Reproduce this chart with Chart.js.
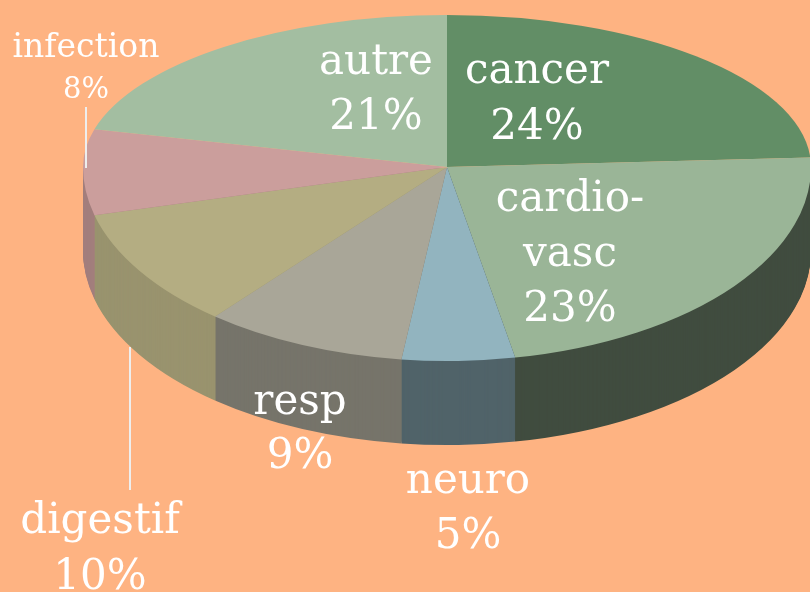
<!DOCTYPE html>
<html lang="fr">
<head>
  <meta charset="UTF-8">
  <title>Causes de décès</title>
  <style>
    html, body {
      margin: 0;
      padding: 0;
      background: #feb382;
      overflow: hidden;
    }
    canvas { display: block; }
  </style>
  <script src="https://cdn.jsdelivr.net/npm/chart.js"></script>
</head>
<body>
  <canvas id="chart" width="810" height="592"></canvas>
  <script>
    // data
    const categories = ['cancer', 'cardio-vasc', 'neuro', 'resp', 'digestif', 'infection', 'autre'];
    const percents = [24, 23, 5, 9, 10, 8, 21];
    const colors = ['#628e66', '#9ab597', '#92b4bf', '#a9a698', '#b4ad82', '#cb9e9c', '#a3bea1'];
    // how dark the side wall of each slice is
    const sideShade = [0.5, 0.42, 0.55, 0.7, 0.85, 0.8, 0.8];

    // the tilted look: apex of the pie, radii and thickness
    const apex = { x: 447, y: 167 };
    const rx = 364, ryTop = 152, ryBot = 194, depth = 84;

    // where the labels sit (center x, y of each line)
    const labelPos = [
      { x: 537, y: [72, 128] },
      { x: 570, y: [200, 255, 310] },
      { x: 468, y: [482, 537] },
      { x: 300, y: [403, 457] },
      { x: 100, y: [522, 578] },
      { x: 86, y: [48, 90], small: true },
      { x: 376, y: [63, 118] }
    ];
    const leaders = [
      [86, 107, 86, 168],
      [130, 347, 130, 490]
    ];

    const pie3d = {
      id: 'pie3d',
      beforeDatasetsDraw(chart) {
        const ctx = chart.ctx;
        const arcs = chart.getDatasetMeta(0).data;
        const cx = arcs[0].x, cy = arcs[0].y, R = arcs[0].outerRadius;

        function half(dy, ry, top, fn) {
          ctx.save();
          ctx.beginPath();
          if (top) ctx.rect(0, 0, chart.width, apex.y + dy);
          else ctx.rect(0, apex.y + dy, chart.width, chart.height);
          ctx.clip();
          ctx.translate(apex.x, apex.y + dy);
          ctx.scale(rx / R, ry / R);
          ctx.translate(-cx, -cy);
          fn();
          ctx.restore();
        }

        // side wall, only the front half shows
        for (let d = depth; d > 0; d--) {
          half(d, ryBot, false, () => {
            arcs.forEach((arc, i) => {
              ctx.filter = `brightness(${sideShade[i]})`;
              arc.draw(ctx);
            });
          });
        }
        ctx.filter = 'none';

        // top face
        half(0, ryTop, true, () => arcs.forEach(a => a.draw(ctx)));
        half(0, ryBot, false, () => arcs.forEach(a => a.draw(ctx)));
        return false;
      },
      afterDraw(chart) {
        const ctx = chart.ctx;
        ctx.save();
        ctx.strokeStyle = '#eeeeee';
        ctx.lineWidth = 2;
        leaders.forEach(l => {
          ctx.beginPath();
          ctx.moveTo(l[0], l[1]);
          ctx.lineTo(l[2], l[3]);
          ctx.stroke();
        });

        ctx.fillStyle = '#ffffff';
        ctx.textAlign = 'center';
        ctx.textBaseline = 'middle';
        categories.forEach((name, i) => {
          const p = labelPos[i];
          const lines = name.includes('-') ? [name.split('-')[0] + '-', name.split('-')[1]] : [name];
          lines.push(percents[i] + '%');
          lines.forEach((t, j) => {
            const isPct = j === lines.length - 1;
            let size = 42;
            if (p.small) size = isPct ? 29 : 33;
            ctx.font = `${size}px "DejaVu Serif"`;
            ctx.fillText(t, p.x, p.y[j]);
          });
        });
        ctx.restore();
      }
    };

    new Chart(document.getElementById('chart'), {
      type: 'pie',
      data: {
        labels: categories,
        datasets: [{
          data: percents,
          backgroundColor: colors,
          borderWidth: 0
        }]
      },
      options: {
        responsive: false,
        animation: false,
        events: [],
        plugins: {
          legend: { display: false },
          tooltip: { enabled: false }
        }
      },
      plugins: [pie3d]
    });
  </script>
</body>
</html>
